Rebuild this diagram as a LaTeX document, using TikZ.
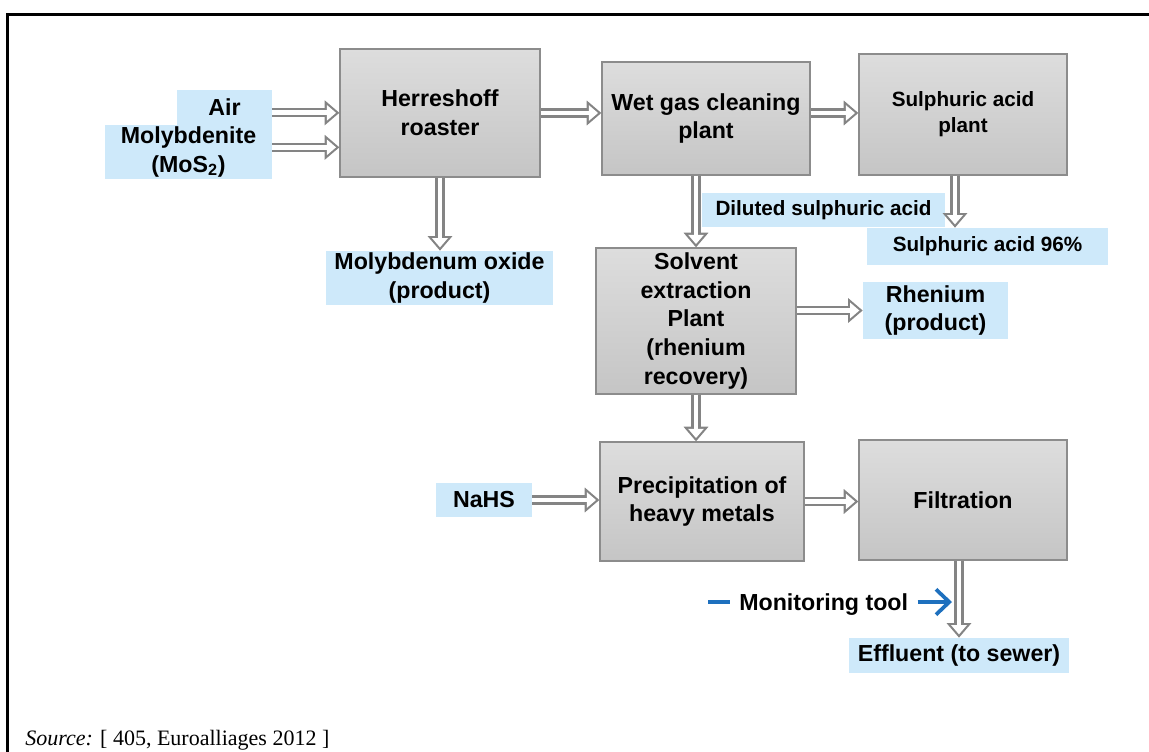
\documentclass[tikz,border=0pt]{standalone}
\usepackage{fontspec}
\setmainfont{Liberation Sans}
\newfontfamily\srcfont{Liberation Serif}
\usepackage{tikz}
\usetikzlibrary{arrows.meta,positioning,calc}

\definecolor{boxtop}{RGB}{221,221,221}
\definecolor{boxbot}{RGB}{197,197,197}
\definecolor{boxline}{RGB}{140,140,140}
\definecolor{labblue}{RGB}{206,233,250}
\definecolor{arrowgray}{RGB}{132,132,132}
\definecolor{mblue}{RGB}{30,112,190}

\begin{document}
\begin{tikzpicture}[x=0.75pt, y=-0.75pt,
    font=\bfseries\fontsize{17.4}{21.5}\selectfont,
    unit/.style={draw=boxline, line width=0.9pt, top color=boxtop, bottom color=boxbot, align=center, inner sep=2pt},
    lab/.style={fill=labblue, align=center, inner sep=0pt},
    small/.style={font=\bfseries\fontsize{15.5}{19.5}\selectfont},
    flow/.style={draw=arrowgray, line width=7pt, -{Triangle[length=11pt,width=18pt]},
        postaction={draw=white, line width=3.6pt, -{Triangle[length=6.9pt,width=11.3pt]}, shorten >=2.5pt}},
    probe/.style={draw=mblue, line width=2.8pt, -{Straight Barb[length=10pt,width=19pt]}}]

    \useasboundingbox (0,0) rectangle (1149,752);

    % Frame
    \draw[line width=2.25pt] (7.5,752) -- (7.5,14.5) -- (1149,14.5);

    % Process units
    \node[unit, minimum width=150pt, minimum height=96pt] (roaster) at (440,113) {Herreshoff\\roaster};
    \node[unit, minimum width=156pt, minimum height=84.75pt] (wet) at (706,118.5) {Wet gas cleaning\\plant};
    \node[unit, small, minimum width=156pt, minimum height=90.75pt] (acid) at (963,114.5) {Sulphuric acid\\plant};
    \node[unit, minimum width=150pt, minimum height=109.5pt] (solvent) at (696,321) {Solvent\\extraction\\Plant\\(rhenium\\recovery)};
    \node[unit, minimum width=153pt, minimum height=89.25pt] (precip) at (702,501.5) {Precipitation of\\heavy metals};
    \node[unit, minimum width=156pt, minimum height=90pt] (filt) at (963,500) {Filtration};

    % Inputs and outputs
    \node[lab, minimum width=71.25pt, minimum height=26.25pt] (air) at (224.5,107.5) {Air};
    \node[lab, minimum width=125.25pt, minimum height=40.5pt] (moly) at (188.5,152) {Molybdenite\\(MoS\textsubscript{2})};
    \node[lab, minimum width=170.25pt, minimum height=40.5pt] (oxide) at (439.5,278) {Molybdenum oxide\\(product)};
    \node[lab, small, minimum width=182.25pt, minimum height=25.5pt] (dilute) at (823.5,210) {Diluted sulphuric acid};
    \node[lab, small, minimum width=180.75pt, minimum height=27.75pt] (acid96) at (987.5,246.5) {Sulphuric acid 96\%};
    \node[lab, minimum width=108.75pt, minimum height=42.75pt] (rhenium) at (935.5,310.5) {Rhenium\\(product)};
    \node[lab, minimum width=72pt, minimum height=25.5pt] (nahs) at (484,500) {NaHS};
    \node[lab, minimum width=165pt, minimum height=26.25pt] (effluent) at (959,655.5) {Effluent (to sewer)};

    % Flows
    \draw[flow] ([yshift=-4pt]air.east) -- ([yshift=-4pt]air.east -| roaster.west);
    \draw[flow] ([yshift=3.5pt]moly.east) -- ([yshift=3.5pt]moly.east -| roaster.west);
    \draw[flow] (roaster) -- (roaster -| wet.west);
    \draw[flow] (wet.east |- roaster) -- (acid.west |- roaster);
    \draw[flow] (roaster.south) -- (roaster.south |- oxide.north);
    \draw[flow] (solvent.north |- wet.south) -- (solvent.north);
    \draw[flow] ([xshift=-6pt]acid.south) -- ([xshift=-6pt]acid.south |- acid96.north);
    \draw[flow] (rhenium.west -| solvent.east) -- (rhenium.west);
    \draw[flow] (solvent.south) -- (solvent.south |- precip.north);
    \draw[flow] (nahs) -- (nahs -| precip.west);
    \draw[flow] (precip) -- (precip -| filt.west);
    \draw[flow] (effluent.north |- filt.south) -- (effluent.north);

    % Monitoring point
    \coordinate (tap) at (952,602);
    \node[anchor=base west, inner sep=0pt] (monitor) at (708,610) {\textcolor{mblue}{\rule[4.5pt]{16.5pt}{3pt}}\hspace{6.75pt}Monitoring tool};
    \draw[probe, shorten <=7pt] (monitor.east |- tap) -- (tap);

    % Source
    \node[anchor=base west, inner sep=0pt, font=\srcfont\fontsize{16.5}{19}\selectfont] (source) at (25,745) {\textit{Source:} [ 405, Euroalliages 2012 ]};
\end{tikzpicture}
\end{document}
